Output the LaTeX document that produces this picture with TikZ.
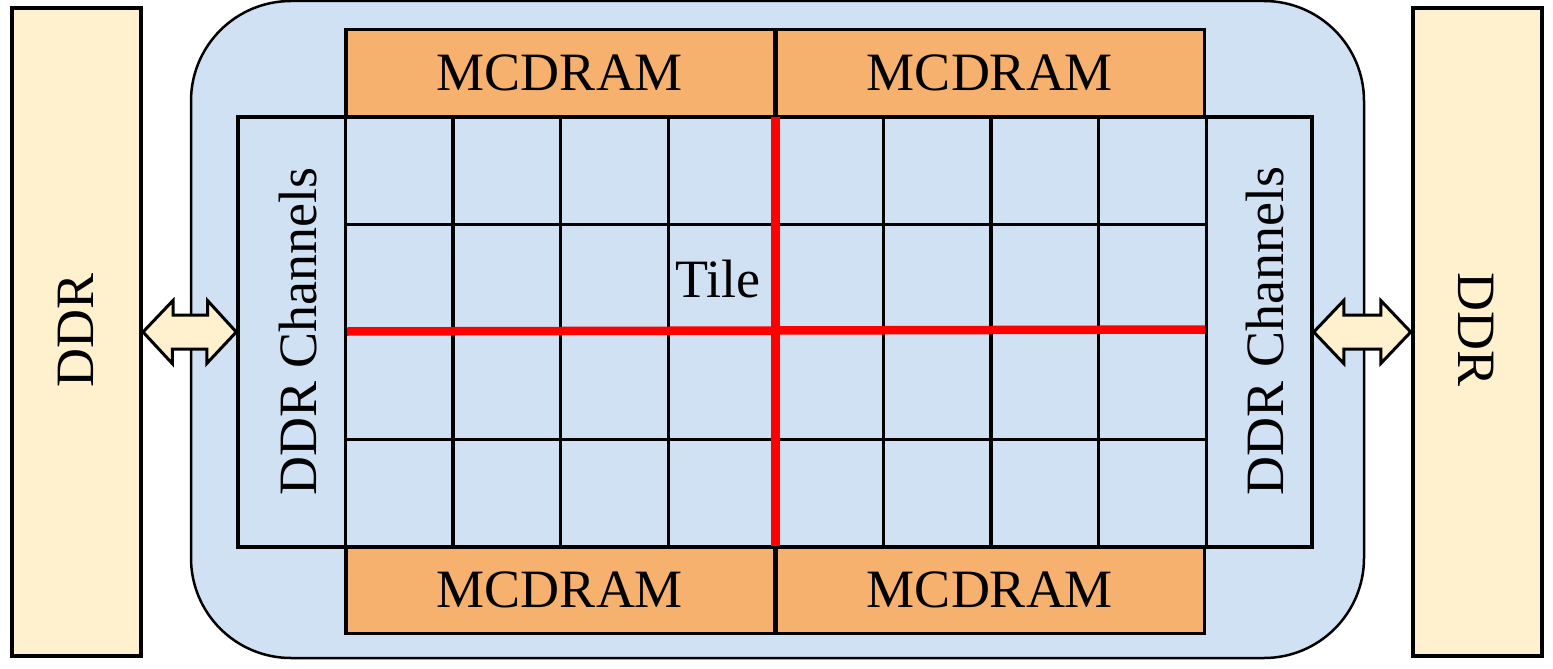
\documentclass[tikz,border=0pt]{standalone}
\usepackage{fontspec}
\setmainfont{Liberation Serif}
\definecolor{chipblue}{HTML}{CFE1F2}
\definecolor{mcorange}{HTML}{F5B16D}
\definecolor{ddrcream}{HTML}{FFF0CE}
\definecolor{tilered}{HTML}{FF0000}
\begin{document}
\begin{tikzpicture}[x=1pt,y=-1pt,
  lbl/.style={font=\fontsize{54}{60}\selectfont, inner sep=0pt},
  ddrbox/.style={draw=black, line width=4pt, fill=ddrcream, inner sep=0pt, minimum width=129.5pt, minimum height=647.5pt},
  mcbox/.style={draw=black, line width=3.5pt, fill=mcorange, inner sep=0pt, minimum width=428.5pt, minimum height=86.5pt},
  gridline/.style={draw=black, line width=3.5pt},
  redline/.style={draw=tilered, line width=8.5pt},
  arrowbox/.style={draw=black, line width=3pt, fill=ddrcream, line join=miter}
]
\useasboundingbox (0,0) rectangle (1553,669);

% outer DDR boxes
\node[ddrbox] (ddrL) at (76.25,332.25) {};
\node[ddrbox] (ddrR) at (1477.5,332.25) {};

% chip
\node[draw=black, line width=2.5pt, fill=chipblue, rounded corners=100pt, inner sep=0pt,
      minimum width=1173pt, minimum height=657pt] (chip) at (777.5,329.5) {};

% DDR channel frame
\node[draw=black, line width=3.5pt, fill=chipblue, inner sep=0pt,
      minimum width=1074pt, minimum height=430pt] (frame) at (775,332) {};

% tile grid
\foreach \i in {0,...,8} {
  \draw[gridline] ({345.5+\i*107.6},117) -- ({345.5+\i*107.6},547);
}
\foreach \j in {0,...,4} {
  \draw[gridline] (345.5,{117+\j*107.5}) -- (1206.3,{117+\j*107.5});
}

% MCDRAM boxes
\node[mcbox] (mcTL) at (560,73) {};
\node[mcbox] (mcTR) at (990,73) {};
\node[mcbox] (mcBL) at (560,590) {};
\node[mcbox] (mcBR) at (990,590) {};
\node[lbl] at (mcTL) {MCDRAM};
\node[lbl] at (mcTR) {MCDRAM};
\node[lbl] at (mcBL) {MCDRAM};
\node[lbl] at (mcBR) {MCDRAM};

% red mesh lines
\coordinate (rt) at (775.5,117);
\coordinate (rb) at (775.5,546);
\coordinate (rl) at (347,331.5);
\coordinate (rr) at (1205,329.5);
\draw[redline] (rl) -- (rr);
\draw[redline] (rt) -- (rb);

% labels
\node[lbl, anchor=base] (tile) at (718,297) {Tile};
\node[lbl, anchor=base, rotate=90] (chL) at (316,331.5) {DDR Channels};
\node[lbl, anchor=base, rotate=90] (chR) at (1283,331) {DDR Channels};
\node[lbl, anchor=base, rotate=90] (ddrLt) at (93,330.5) {DDR};
\node[lbl, anchor=base, rotate=-90] (ddrRt) at (1458,330) {DDR};

% double arrows
\draw[arrowbox] (ddrL.east |- 0,332) -- ++(30,-31.5) -- ++(0,14.5) -- ++(34.5,0) -- ++(0,-14.5)
  -- (frame.west |- 0,332) -- ++(-29.5,31.5) -- ++(0,-14.5) -- ++(-34.5,0) -- ++(0,14.5) -- cycle;
\draw[arrowbox] (frame.east |- 0,332) -- ++(30,-31.5) -- ++(0,14.5) -- ++(37,0) -- ++(0,-14.5)
  -- (ddrR.west |- 0,332) -- ++(-30,31.5) -- ++(0,-14.5) -- ++(-37,0) -- ++(0,14.5) -- cycle;
\end{tikzpicture}
\end{document}
